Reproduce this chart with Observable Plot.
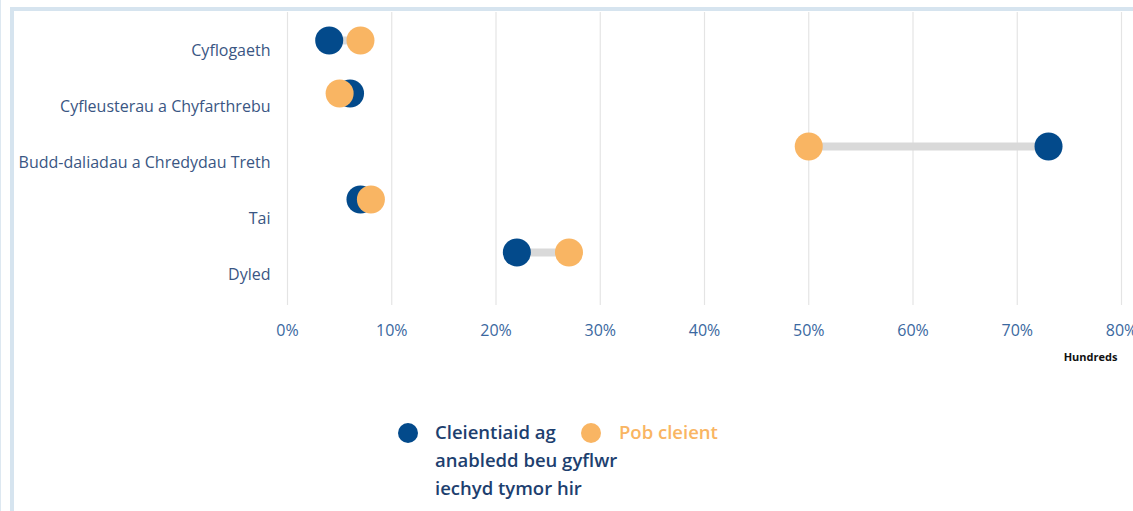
<!DOCTYPE html>
<html>
<head>
<meta charset="utf-8">
<script src="https://cdn.jsdelivr.net/npm/d3@7"></script>
<script src="https://cdn.jsdelivr.net/npm/@observablehq/plot@0.6"></script>
<style>
  html, body { margin: 0; padding: 0; background: #fff; width: 1133px; height: 511px; overflow: hidden; font-family: "Open Sans", sans-serif; }
  #edge { position: absolute; left: 0; top: 0; width: 1px; height: 511px; background: #dde8f1; }
  #frame { position: absolute; left: 10px; top: 7px; width: 1200px; height: 600px; border-top: 4px solid #d6e4ef; border-left: 4px solid #d6e4ef; }
  #chart { position: absolute; left: 0; top: 0; }
  #legend { position: absolute; left: 0; top: 418px; width: 1133px; font-family: "Open Sans", sans-serif; font-size: 18.5px; font-weight: 600; line-height: 28px; }
  .sw { position: absolute; width: 20px; height: 20px; border-radius: 50%; top: 5px; }
  .lab { position: absolute; top: 0; white-space: nowrap; }
</style>
</head>
<body>
<div id="edge"></div>
<div id="frame"></div>
<div id="chart"></div>
<div id="legend"></div>
<script>
const categories = ["Cyflogaeth", "Cyfleusterau a Chyfarthrebu", "Budd-daliadau a Chredydau Treth", "Tai", "Dyled"];
const disabledValues = [4, 6, 73, 7, 22];
const allValues = [7, 5, 50, 8, 27];
const xTicks = [0, 10, 20, 30, 40, 50, 60, 70, 80];
const seriesNames = ["Cleientiaid ag anabledd beu gyflwr iechyd tymor hir", "Pob cleient"];
const seriesColors = ["#034a8b", "#f9b563"];

const rows = categories.map((c, i) => ({
  category: c,
  i,
  disabled: disabledValues[i],
  all: allValues[i],
  lo: Math.min(disabledValues[i], allValues[i]),
  hi: Math.max(disabledValues[i], allValues[i])
}));

const chart = Plot.plot({
  width: 1133,
  height: 390,
  marginLeft: 287,
  marginRight: 12,
  marginTop: 12,
  marginBottom: 85,
  style: { fontFamily: "Open Sans, sans-serif", background: "transparent", overflow: "visible" },
  x: { domain: [0, 80], ticks: xTicks, tickFormat: d => d + "%" },
  y: { domain: [-0.528, 5.0], reverse: true, axis: null },
  marks: [
    Plot.ruleX(xTicks, { stroke: "#e4e4e4", strokeWidth: 1.2 }),
    Plot.axisX({ ticks: xTicks, tickFormat: d => d + "%", tickSize: 0, tickPadding: 19, fontSize: 16, color: "#3a68a0", label: null }),
    Plot.ruleY(rows, { y: "i", x1: "lo", x2: "hi", stroke: "#d9d9d9", strokeWidth: 8 }),
    Plot.dot(rows, { x: "disabled", y: "i", r: 14, fill: seriesColors[0] }),
    Plot.dot(rows, { x: "all", y: "i", r: 14, fill: seriesColors[1] }),
    Plot.text(rows, { y: d => d.i * 1.06 + 0.19, frameAnchor: "left", text: "category", textAnchor: "end", dx: -17, fontSize: 16, fill: "#3a5683" }),
    Plot.text(["Hundreds"], { x: 80, frameAnchor: "bottom", text: d => d, dy: 55, dx: -31, fontSize: 11, fontWeight: "bold", fill: "#111" })
  ]
});
document.getElementById("chart").appendChild(chart);

const legend = document.getElementById("legend");
const items = [
  { left: 398, textLeft: 435, color: seriesColors[0], textColor: "#1d3f6f", html: "Cleientiaid ag<br>anabledd beu gyflwr<br>iechyd tymor hir" },
  { left: 581, textLeft: 619, color: seriesColors[1], textColor: seriesColors[1], html: seriesNames[1] }
];
items.forEach(it => {
  const sw = document.createElement("div");
  sw.className = "sw";
  sw.style.left = it.left + "px";
  sw.style.background = it.color;
  legend.appendChild(sw);
  const lab = document.createElement("div");
  lab.className = "lab";
  lab.style.left = it.textLeft + "px";
  lab.style.color = it.textColor;
  lab.innerHTML = it.html;
  legend.appendChild(lab);
});
</script>
</body>
</html>
